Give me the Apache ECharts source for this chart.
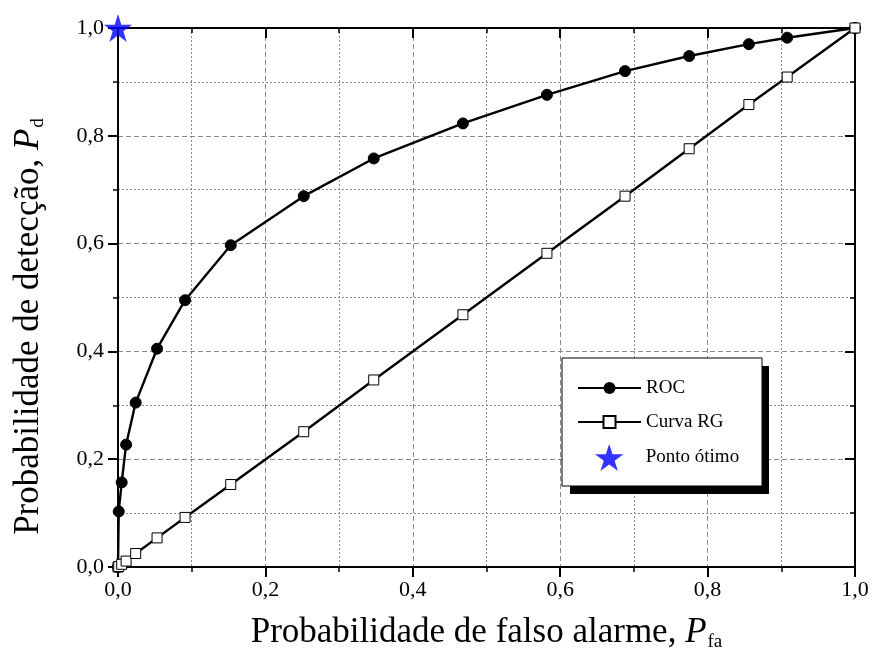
<!DOCTYPE html>
<html><head><meta charset="utf-8">
<script src="https://cdn.jsdelivr.net/npm/echarts@6/dist/echarts.min.js"></script>
<style>html,body{margin:0;padding:0;background:#fff}#c{width:872px;height:657px}</style>
</head><body><div id="c"></div>
<script>
const pfa = [0, 0.001, 0.005, 0.011, 0.024, 0.053, 0.091, 0.153, 0.252, 0.347, 0.468, 0.582, 0.688, 0.775, 0.856, 0.908, 1.0];
const rocPd = [0, 0.103, 0.157, 0.227, 0.305, 0.405, 0.495, 0.597, 0.688, 0.758, 0.823, 0.876, 0.920, 0.948, 0.970, 0.982, 1.0];
const rgPd = [0, 0.001, 0.005, 0.011, 0.025, 0.054, 0.092, 0.153, 0.251, 0.347, 0.468, 0.582, 0.688, 0.776, 0.858, 0.909, 1.0];
const optimo = [[0, 1]];
const ticks = [0, 0.2, 0.4, 0.6, 0.8, 1.0];

const FONT = 'Liberation Serif';
const star = 'path://M50,0 L61.8,36.2 L100,36.2 L69.1,58.8 L80.9,95.1 L50,72.4 L19.1,95.1 L30.9,58.8 L0,36.2 L38.2,36.2 Z';
const fmt = v => v.toFixed(1).replace('.', ',');

function axisBase(extra) {
  return Object.assign({
    type: 'value', min: 0, max: 1, interval: 0.2, splitNumber: 5,
    axisLine: {show: true, onZero: false, lineStyle: {color: '#000', width: 2}},
    axisTick: {show: true, length: 10, lineStyle: {color: '#000', width: 2}},
    minorTick: {show: true, splitNumber: 2, length: 5, lineStyle: {color: '#000', width: 1.5}},
    splitLine: {show: false}, minorSplitLine: {show: false},
    axisLabel: {show: false}
  }, extra);
}
const titleRich = {
  a: {fontFamily: FONT, fontSize: 35, color: '#000'},
  i: {fontFamily: FONT, fontSize: 35, fontStyle: 'italic', color: '#000'},
  s: {fontFamily: FONT, fontSize: 19, color: '#000', padding: [20, 0, 0, 1]}
};

const chart = echarts.init(document.getElementById('c'));
chart.setOption({
  animation: false,
  backgroundColor: '#fff',
  grid: {left: 118, right: 17, top: 28, bottom: 88, containLabel: false},
  xAxis: [
    axisBase({
      position: 'bottom',
      axisLabel: {show: true, formatter: fmt, color: '#000', fontFamily: FONT, fontSize: 22, margin: 12},
      splitLine: {show: true, lineStyle: {color: '#888', type: [5, 3], width: 1}},
      minorSplitLine: {show: true, lineStyle: {color: '#888', type: [2, 2], width: 1}},
      name: '{a|Probabilidade de falso alarme, }{i|P}{s|fa}',
      nameLocation: 'middle', nameGap: 46,
      nameTextStyle: {rich: titleRich}
    }),
    axisBase({position: 'top', axisTick: {show: true, inside: true, length: 10, lineStyle: {color: '#000', width: 2}},
      minorTick: {show: true, splitNumber: 2, length: 5, lineStyle: {color: '#000', width: 1.5}}})
  ],
  yAxis: [
    axisBase({
      position: 'left',
      axisLabel: {show: true, formatter: fmt, color: '#000', fontFamily: FONT, fontSize: 22, margin: 14},
      splitLine: {show: true, lineStyle: {color: '#888', type: [5, 3], width: 1}},
      minorSplitLine: {show: true, lineStyle: {color: '#888', type: [2, 2], width: 1}},
      name: '{a|Probabilidade de detecção, }{i|P}{s|d}',
      nameLocation: 'middle', nameGap: 70, nameRotate: 90,
      nameTextStyle: {rich: titleRich, padding: [0, 58, 0, 0]}
    }),
    axisBase({position: 'right', axisTick: {show: true, inside: true, length: 10, lineStyle: {color: '#000', width: 2}},
      minorTick: {show: true, splitNumber: 2, length: 5, lineStyle: {color: '#000', width: 1.5}}})
  ],
  graphic: [
    {type: 'rect', z: 50, shape: {x: 570, y: 366, width: 199, height: 128}, style: {fill: '#000'}},
    {type: 'rect', z: 51, shape: {x: 562, y: 358, width: 200, height: 128}, style: {fill: '#fff', stroke: '#000', lineWidth: 1}}
  ],
  legend: [
    {
      left: 562, top: 358, orient: 'vertical', z: 60,
      padding: [20, 10, 0, 15], itemGap: 14, itemWidth: 63, itemHeight: 15,
      textStyle: {fontFamily: FONT, fontSize: 19, color: '#000', lineHeight: 20},
      data: ['ROC', 'Curva RG']
    },
    {
      left: 580, top: 444, orient: 'vertical', z: 60,
      padding: [0, 10, 0, 15], itemWidth: 63, itemHeight: 27,
      textStyle: {fontFamily: FONT, fontSize: 19, color: '#000', lineHeight: 20},
      data: ['Ponto ótimo']
    }
  ],
  series: [
    {name: 'ROC', type: 'line', xAxisIndex: 0, yAxisIndex: 0,
     data: pfa.map((x, i) => [x, rocPd[i]]),
     symbol: 'circle', symbolSize: 11, showAllSymbol: true,
     lineStyle: {color: '#000', width: 2.4}, itemStyle: {color: '#000', borderColor: '#000'}, z: 3},
    {name: 'Curva RG', type: 'line', xAxisIndex: 0, yAxisIndex: 0,
     data: pfa.map((x, i) => [x, rgPd[i]]),
     symbol: 'rect', symbolSize: 10, showAllSymbol: true,
     lineStyle: {color: '#000', width: 2.4}, itemStyle: {color: '#fff', borderColor: '#000', borderWidth: 1}, z: 4},
    {name: 'Ponto ótimo', type: 'scatter', xAxisIndex: 0, yAxisIndex: 0,
     data: optimo, symbol: star, symbolSize: 28, clip: false,
     itemStyle: {color: '#0000ff'}, z: 5}
  ]
});
</script></body></html>
